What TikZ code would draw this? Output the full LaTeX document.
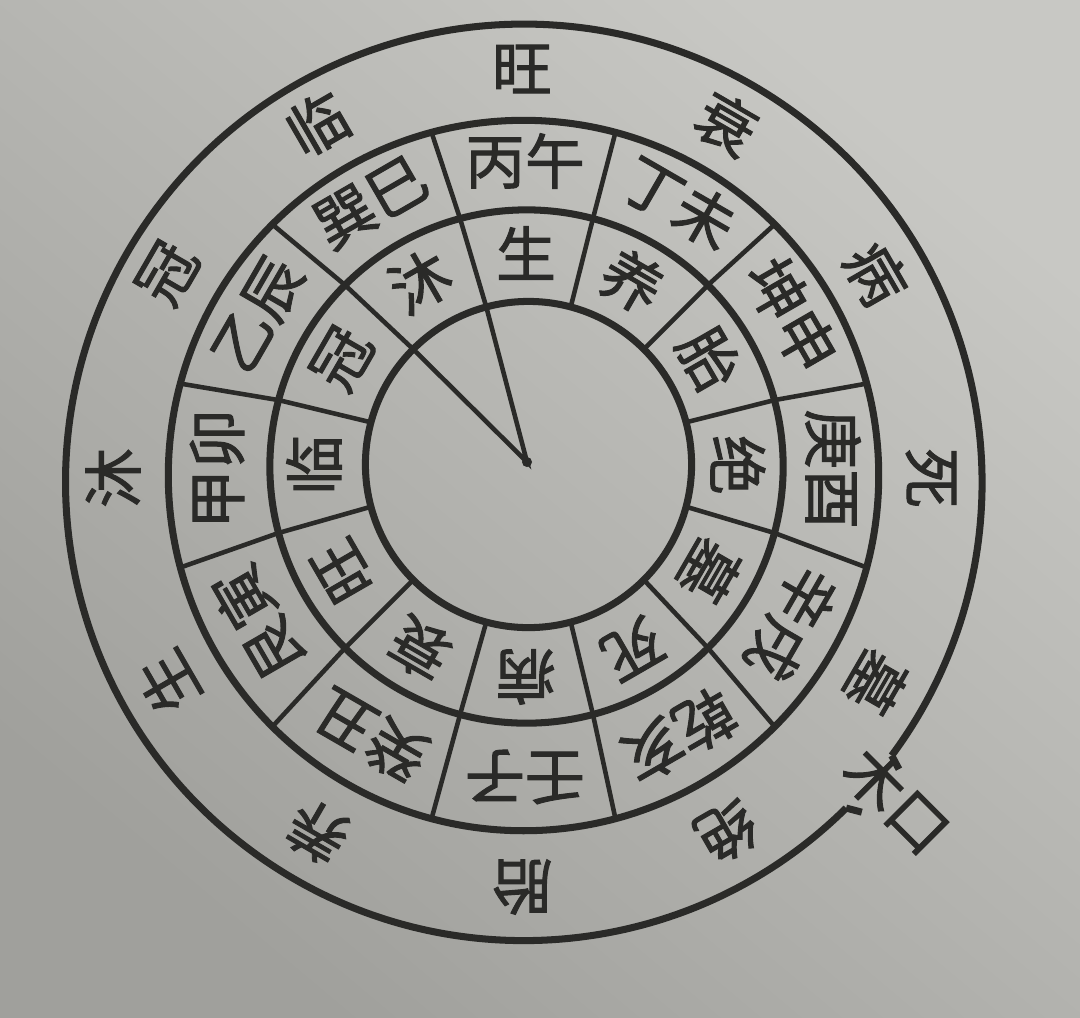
\documentclass[tikz,border=0pt]{standalone}
\usepackage{fontspec}
\newfontfamily\cjk{Noto Sans CJK SC}[FakeBold=1.6]
\usetikzlibrary{calc}
\definecolor{ink}{HTML}{2A2A28}
\definecolor{paperA}{HTML}{C8C8C4}
\definecolor{paperB}{HTML}{A0A09C}
\tikzset{
  ringline/.style={draw=ink, line width=2pt},
  divline/.style={draw=ink, line width=1.3pt},
  lab/.style={font=\cjk\fontsize{17pt}{17pt}\selectfont, text=ink, inner sep=0pt},
}
\begin{document}
\begin{tikzpicture}[x=0.01cm, y=0.01cm]
\useasboundingbox (0,0) rectangle (1080,-1017);
\shade[top color=paperA, bottom color=paperB, shading angle=-40] (0,0) rectangle (1080,-1017);

% circle centres (photo is slightly skewed)
\coordinate (c1) at (528.5,-464.5);
\coordinate (c2) at (526.5,-466.5);
\coordinate (c3) at (523.5,-475.5);
\coordinate (c4) at (524,-482.5);
\coordinate (dot) at (527,-462);
\coordinate (t2) at (526,-465);
\coordinate (t3) at (525,-469);
\coordinate (t4) at (522,-478);

% circles
\draw[ringline] (c1) circle[radius=1.63cm];
\draw[ringline] (c2) circle[radius=2.565cm];
\draw[ringline] (c3) circle[radius=3.55cm];
\coordinate (gapA) at ($(c4)+(-36.6:458)$);
\coordinate (gapB) at ($(c4)+(-45.3:458)$);
\draw[ringline] (gapA) arc[start angle=-36.6, end angle=314.7, radius=4.58cm];
\draw[ringline] (gapA) -- ($(c4)+(-37.4:472)$);
\draw[ringline] (gapB) -- ($(c4)+(-44.3:472)$);

% sector dividers
\foreach \a in {15,45,...,345}{
  \draw[divline] ($(c1)+(\a:163)$) -- ($(c2)+(\a:256.5)$) -- ($(c3)+(\a:355)$);
}

% pointer wedge
\draw[divline] ($(c1)+(105:163)$) -- (dot) -- ($(c1)+(135:163)$);
\fill[ink] (dot) circle[radius=0.05cm];

% ring 2
\foreach \a/\t [count=\i] in {90/生,60/养,30/胎,0/绝,-30/墓,-60/死,-90/病,-120/衰,-150/旺,180/临,150/冠,120/沐}{
  \node[lab, rotate=\a-90] (r2n\i) at ($(t2)+(\a:212)$) {\t};
}
% ring 3
\foreach \a/\t [count=\i] in {90/丙午,60/丁未,30/坤申,0/庚酉,-30/辛戌,-60/乾亥,-90/壬子,-120/癸丑,-150/艮寅,180/甲卯,150/乙辰,120/巽巳}{
  \node[lab, rotate=\a-90] (r3n\i) at ($(t3)+(\a:308)$) {\t};
}
% outer ring
\foreach \a/\t [count=\i] in {90/旺,60/衰,30/病,0/死,-30/墓,-60/绝,-90/胎,-120/养,-150/生,180/沐,150/冠,120/临}{
  \node[lab, rotate=\a-90] (r4n\i) at ($(t4)+(\a:409)$) {\t};
}

% note in the gap of the outer circle
\node[lab, rotate=-45] (note) at (897,-800) {木口};
\end{tikzpicture}
\end{document}
